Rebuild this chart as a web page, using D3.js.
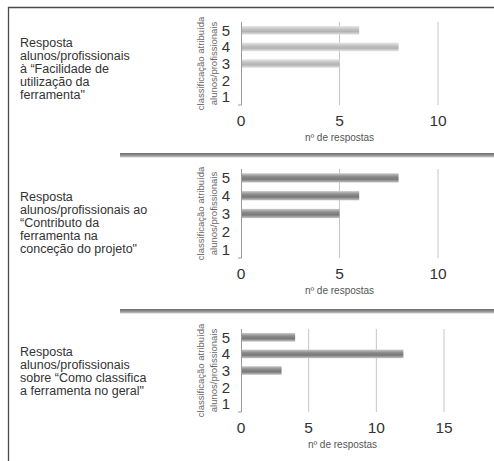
<!DOCTYPE html>
<html><head><meta charset="utf-8">
<script src="https://cdn.jsdelivr.net/npm/d3@7"></script>
<style>
html,body{margin:0;padding:0;background:#fff;}
svg{display:block;font-family:"Liberation Sans",Arial,sans-serif;}
</style></head>
<body>
<script>
// ---- data ----
const categories = ["5", "4", "3", "2", "1"];
const facilidade = [6, 8, 5, 0, 0];   // ratings 5..1
const contributo = [8, 6, 5, 0, 0];
const geral      = [4, 12, 3, 0, 0];
const ticksA = [0, 5, 10];
const ticksB = [0, 5, 10, 15];
const text1 = ["Resposta", "alunos/profissionais", "à “Facilidade de", "utilização da", "ferramenta\""];
const text2 = ["Resposta", "alunos/profissionais ao", "“Contributo da", "ferramenta na", "conceção do projeto\""];
const text3 = ["Resposta", "alunos/profissionais", "sobre “Como classifica", "a ferramenta no geral\""];
const yTitle = ["classificação atribuída", "alunos/profissionais"];
const xTitle = "nº de respostas";

const W = 494, H = 461;
const svg = d3.select("body").append("svg").attr("width", W).attr("height", H);
const defs = svg.append("defs");

function grad(id, stops) {
  const g = defs.append("linearGradient").attr("id", id)
    .attr("x1", 0).attr("y1", 0).attr("x2", 0).attr("y2", 1);
  stops.forEach(s => g.append("stop").attr("offset", s[0]).attr("stop-color", s[1]));
}
grad("barLight", [["0%", "#e8e8e8"], ["35%", "#c4c4c4"], ["65%", "#b2b2b2"], ["100%", "#e4e4e4"]]);
grad("barDark", [["0%", "#cacaca"], ["35%", "#8c8c8c"], ["65%", "#787878"], ["100%", "#c6c6c6"]]);
grad("sep", [["0%", "#6e6e6e"], ["45%", "#8a8a8a"], ["100%", "#d0d0d0"]]);

// outer frame (top and left edges visible)
svg.append("path").attr("d", `M8.5,${H} L8.5,7.5 L${W},7.5`)
  .attr("fill", "none").attr("stroke", "#4a4a4a").attr("stroke-width", 1.3);

// separators
[153, 309].forEach(y => {
  svg.append("rect").attr("x", 120).attr("y", y).attr("width", W - 120).attr("height", 4.5)
    .attr("fill", "url(#sep)");
});

function chart(cfg) {
  const x = d3.scaleLinear().domain([0, cfg.max]).range([241, cfg.right]);
  const y = d3.scaleBand().domain(categories).range([cfg.top, cfg.bottom])
    .paddingInner(0.48).paddingOuter(0.24);
  const g = svg.append("g");

  // gridlines
  g.selectAll("line.grid").data(cfg.ticks.filter(t => t > 0)).enter().append("line")
    .attr("x1", d => x(d)).attr("x2", d => x(d))
    .attr("y1", cfg.top).attr("y2", cfg.bottom)
    .attr("stroke", "#c6c6c6").attr("stroke-width", 1);

  // bars
  g.selectAll("rect.bar").data(cfg.values.map((v, i) => ({ c: categories[i], v })))
    .enter().append("rect")
    .attr("x", x(0)).attr("y", d => y(d.c))
    .attr("width", d => x(d.v) - x(0)).attr("height", y.bandwidth())
    .attr("fill", cfg.fill);

  // y axis line
  g.append("line").attr("x1", x(0) + 0.5).attr("x2", x(0) + 0.5)
    .attr("y1", cfg.top).attr("y2", cfg.bottom)
    .attr("stroke", "#9a9a9a").attr("stroke-width", 1);
  g.append("line").attr("x1", x(0) - 3).attr("x2", x(0) + 0.5)
    .attr("y1", cfg.bottom).attr("y2", cfg.bottom)
    .attr("stroke", "#9a9a9a").attr("stroke-width", 1);

  // category labels
  g.selectAll("text.cat").data(categories).enter().append("text")
    .attr("x", 226).attr("y", d => y(d) + y.bandwidth() / 2)
    .attr("dy", "0.36em").attr("text-anchor", "middle")
    .attr("font-size", 15).attr("fill", "#333").text(d => d);

  // x tick labels
  g.selectAll("text.tick").data(cfg.ticks).enter().append("text")
    .attr("x", d => x(d)).attr("y", cfg.bottom + 15).attr("dy", "0.36em")
    .attr("text-anchor", "middle").attr("font-size", 15.5).attr("fill", "#333").text(d => d);

  // x title
  g.append("text").attr("x", (x.range()[0] + x.range()[1]) / 2).attr("y", cfg.bottom + 32)
    .attr("dy", "0.36em").attr("text-anchor", "middle")
    .attr("font-size", 10).attr("fill", "#555").text(xTitle);

  // y title
  const cy = (cfg.top + cfg.bottom) / 2;
  yTitle.forEach((t, i) => {
    g.append("text").attr("transform", `translate(${201 + i * 12.5},${cy}) rotate(-90)`)
      .attr("dy", "0.36em").attr("text-anchor", "middle")
      .attr("font-size", 9.5).attr("fill", "#666").text(t);
  });

  // left description
  cfg.text.forEach((t, i) => {
    g.append("text").attr("x", 20).attr("y", cfg.textY + i * 13.1)
      .attr("font-size", 12.5).attr("fill", "#333").text(t);
  });
}

chart({ values: facilidade, max: 10, right: 438, ticks: ticksA, top: 22, bottom: 105, fill: "url(#barLight)", text: text1, textY: 46.7 });
chart({ values: contributo, max: 10, right: 438, ticks: ticksA, top: 169, bottom: 258, fill: "url(#barDark)", text: text2, textY: 201 });
chart({ values: geral, max: 15, right: 444, ticks: ticksB, top: 329, bottom: 412, fill: "url(#barDark)", text: text3, textY: 356 });
</script>
</body></html>
